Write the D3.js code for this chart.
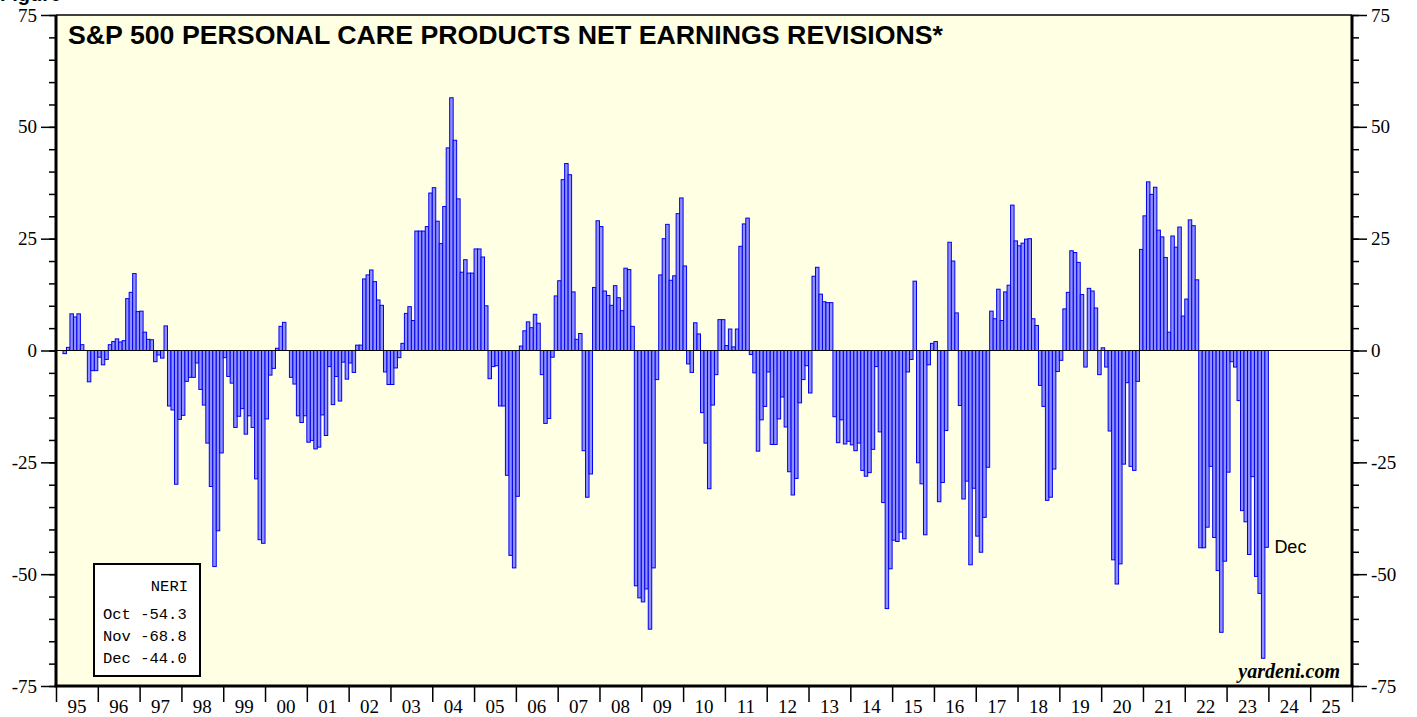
<!DOCTYPE html>
<html>
<head>
<meta charset="utf-8">
<script src="https://cdnjs.cloudflare.com/ajax/libs/d3/7.8.5/d3.min.js"></script>
<style>
  body { margin: 0; background: #fff; }
  svg { display: block; }
</style>
</head>
<body>
<script>
// monthly NERI, Mar 1995 .. Dec 2023
var startMonth = 2; // months after Jan 1995
var neri = [
  -0.7, 0.7, 8.2, 7.5, 8.2, 1.3, 0, -7.0, -4.5, -4.5,
  -1.5, -3.2, -2.0, 1.3, 2.0, 2.6, 1.9, 2.2, 11.6, 13.0, 17.2, 8.7, 8.8, 4.1,
  2.5, 2.4, -2.5, -1.0, -1.7, 5.5, -12.4, -13.3, -29.9, -15.4, -14.5, -6.9,
  -6.0, -6.0, -2.8, -8.7, -12.2, -20.7, -30.4, -48.3, -40.3, -22.9, -1.6, -5.8,
  -7.3, -17.2, -14.7, -13.0, -18.7, -14.6, -17.2, -28.7, -42.3, -43.1, -15.3, -5.5,
  -4.0, 0.5, 5.4, 6.3, 0, -6.0, -7.5, -14.6, -16.1, -14.6, -20.5, -20.1,
  -22.0, -21.6, -14.4, -19.0, -3.6, -12.1, -5.8, -11.3, -2.6, -6.4, -2.8, -4.9,
  1.2, 1.2, 16.0, 16.9, 18.0, 15.4, 11.3, 10.1, -4.8, -7.6, -7.6, -3.9,
  -1.6, 1.6, 8.3, 9.8, 6.7, 26.7, 26.7, 26.7, 27.7, 35.2, 36.4, 28.9,
  23.9, 32.2, 45.3, 56.5, 47.0, 33.9, 17.5, 20.3, 17.3, 17.3, 22.7, 22.7,
  20.9, 10.0, -6.3, -3.6, -3.4, -12.4, -12.4, -27.9, -45.8, -48.6, -32.6, 1.0,
  4.4, 6.4, 5.1, 8.1, 6.1, -5.4, -16.3, -15.2, -1.5, 12.2, 15.6, 38.2,
  41.8, 39.3, 13.1, 2.5, 3.8, -22.4, -32.8, -27.6, 14.1, 29.0, 27.7, 13.3,
  12.3, 10.1, 14.5, 11.8, 8.9, 18.4, 18.1, 5.4, -52.6, -55.3, -56.2, -53.3,
  -62.3, -48.6, -6.5, 16.9, 25.0, 28.2, 15.7, 16.7, 30.6, 34.1, 18.9, -3.0,
  -4.9, 6.2, 3.7, -13.9, -20.7, -30.9, -12.2, -5.4, 6.9, 6.9, 1.1, 4.8,
  0.8, 4.8, 23.3, 28.3, 29.6, -0.9, -5.0, -22.5, -15.5, -12.5, -4.8, -21.0,
  -21.0, -15.3, -10.4, -17.1, -27.1, -32.3, -28.6, -11.7, -6.5, -3.4, -9.5, 16.6,
  18.6, 12.6, 10.9, 10.7, 10.7, -14.8, -20.6, -15.5, -20.9, -20.3, -21.1, -22.4,
  -20.7, -26.8, -28.1, -27.3, -22.1, -3.6, -18.2, -34.0, -57.7, -48.8, -42.4, -42.7,
  -40.6, -42.1, -4.8, -2.0, 15.5, -25.1, -29.8, -41.2, -3.2, 1.6, 2.0, -33.8,
  -29.5, -17.9, 24.2, 20.0, 8.4, -12.3, -33.2, -29.2, -47.9, -30.8, -41.5, -45.1,
  -37.3, -26.1, 8.8, 7.1, 13.7, 6.7, 13.1, 14.6, 32.5, 24.5, 23.4, 24.0,
  24.9, 25.0, 7.1, 5.6, -7.8, -12.5, -33.5, -32.8, -26.5, -4.7, -2.2, 9.3,
  13.0, 22.3, 21.9, 19.7, 12.5, -3.7, 13.9, 13.3, 9.5, -5.4, 0.6, -3.7,
  -18.0, -46.8, -52.2, -47.7, -25.4, -7.2, -25.9, -26.8, -6.9, 22.6, 30.1, 37.7,
  34.9, 36.5, 26.9, 25.4, 20.8, 4.1, 25.6, 23.1, 27.6, 7.7, 11.5, 29.2,
  27.9, 15.8, -44.1, -44.1, -39.5, -25.9, -41.8, -49.2, -63.0, -47.1, -27.2, -2.5,
  -3.7, -11.2, -35.8, -38.3, -45.6, -28.2, -50.5, -54.3, -68.8, -44.0
];
var years = d3.range(1995, 2026);
var yTicks = [-75, -50, -25, 0, 25, 50, 75];
var legendRows = [['Oct', '-54.3'], ['Nov', '-68.8'], ['Dec', '-44.0']];

var width = 1417, height = 717;
var plotL = 56, plotR = 1352, plotT = 15, plotB = 686;

var svg = d3.select('body').append('svg')
    .attr('width', width)
    .attr('height', height);

var x = d3.scaleLinear().domain([0, years.length * 12]).range([plotL, plotR]);
var y = d3.scaleLinear().domain([-75, 75]).range([plotB, plotT]);

svg.append('rect')
    .attr('x', plotL).attr('y', plotT)
    .attr('width', plotR - plotL).attr('height', plotB - plotT)
    .style('fill', '#ffffe3');

// bars
svg.append('g').selectAll('rect')
    .data(neri)
  .enter().append('rect')
    .attr('x', function(d, i){ return x(startMonth + i); })
    .attr('width', x(1) - x(0))
    .attr('y', function(d){ return y(Math.max(0, d)); })
    .attr('height', function(d){ return Math.abs(y(d) - y(0)); })
    .style('fill', '#9090ff')
    .style('stroke', '#0000f0')
    .style('stroke-width', 1);

svg.append('line')
    .attr('x1', plotL).attr('x2', plotR)
    .attr('y1', y(0)).attr('y2', y(0))
    .style('stroke', '#000').style('stroke-width', 1.2);

// axes
var minor = d3.range(-75, 76, 5);
var fontSerif = '"Liberation Serif", "Times New Roman", serif';
var plain = function(d){ return String(d); };

function styleAxis(g) {
  g.select('.domain').remove();
  g.selectAll('line').style('stroke', '#000').style('stroke-width', 1.5);
  g.selectAll('text').style('font-family', fontSerif).style('font-size', '19px').style('fill', '#000');
}

svg.append('g').attr('transform', 'translate(' + plotL + ',0)')
    .call(d3.axisLeft(y).tickValues(minor).tickSize(7).tickFormat(''))
    .call(styleAxis);
svg.append('g').attr('transform', 'translate(' + plotL + ',0)')
    .call(d3.axisLeft(y).tickValues(yTicks).tickSize(15).tickPadding(4).tickFormat(plain))
    .call(styleAxis);
svg.append('g').attr('transform', 'translate(' + plotR + ',0)')
    .call(d3.axisRight(y).tickValues(minor).tickSize(7).tickFormat(''))
    .call(styleAxis);
svg.append('g').attr('transform', 'translate(' + plotR + ',0)')
    .call(d3.axisRight(y).tickValues(yTicks).tickSize(15).tickPadding(4).tickFormat(plain))
    .call(styleAxis);

svg.append('g').attr('transform', 'translate(0,' + plotB + ')')
    .call(d3.axisBottom(x).tickValues(d3.range(0, years.length * 12 + 1, 12)).tickSize(16).tickFormat(''))
    .call(styleAxis);

svg.append('g').selectAll('text')
    .data(years)
  .enter().append('text')
    .attr('x', function(d, i){ return x(i * 12 + 6); })
    .attr('y', 713)
    .attr('text-anchor', 'middle')
    .style('font-family', fontSerif)
    .style('font-size', '19px')
    .text(function(d){ return String(d).slice(2); });

// frame
svg.append('line').attr('x1', plotL).attr('x2', plotR).attr('y1', plotT).attr('y2', plotT)
    .style('stroke', '#000').style('stroke-width', 1.5);
svg.append('line').attr('x1', plotL - 1.5).attr('x2', plotR + 1.5).attr('y1', plotB).attr('y2', plotB)
    .style('stroke', '#000').style('stroke-width', 3);
svg.append('line').attr('x1', plotL).attr('x2', plotL).attr('y1', plotT).attr('y2', plotB)
    .style('stroke', '#000').style('stroke-width', 3);
svg.append('line').attr('x1', plotR).attr('x2', plotR).attr('y1', plotT).attr('y2', plotB)
    .style('stroke', '#000').style('stroke-width', 3);

// title
svg.append('text')
    .attr('x', 68).attr('y', 44)
    .attr('textLength', 875)
    .attr('lengthAdjust', 'spacingAndGlyphs')
    .style('font-family', '"Liberation Sans", Arial, sans-serif')
    .style('font-weight', 'bold')
    .style('font-size', '26px')
    .text('S&P 500 PERSONAL CARE PRODUCTS NET EARNINGS REVISIONS*');

// header above the frame, cut by the top edge
svg.append('text')
    .attr('x', 0).attr('y', 1)
    .style('font-family', '"Liberation Sans", Arial, sans-serif')
    .style('font-weight', 'bold')
    .style('font-size', '20px')
    .text('Figure');

// last month label
svg.append('text')
    .attr('x', x(startMonth + neri.length) + 6).attr('y', y(-44) + 6)
    .style('font-family', '"Liberation Sans", Arial, sans-serif')
    .style('font-size', '18px')
    .text('Dec');

svg.append('text')
    .attr('x', 1340).attr('y', 678)
    .attr('text-anchor', 'end')
    .style('font-family', fontSerif)
    .style('font-weight', 'bold')
    .style('font-style', 'italic')
    .style('font-size', '20px')
    .text('yardeni.com');

// legend
var lg = svg.append('g');
lg.append('rect')
    .attr('x', 94).attr('y', 564)
    .attr('width', 106).attr('height', 112)
    .style('fill', '#fff').style('stroke', '#000').style('stroke-width', 2);
var mono = '"Liberation Mono", "Courier New", monospace';
lg.append('text')
    .attr('x', 188).attr('y', 591)
    .attr('text-anchor', 'end')
    .style('font-family', mono).style('font-size', '15.5px')
    .text('NERI');
lg.selectAll('.row')
    .data(legendRows)
  .enter().append('text')
    .attr('class', 'row')
    .attr('x', 103)
    .attr('y', function(d, i){ return 619 + i * 22; })
    .style('font-family', mono).style('font-size', '15.5px')
    .style('white-space', 'pre')
    .text(function(d){ return d[0] + ' ' + d[1]; });
</script>
</body>
</html>
